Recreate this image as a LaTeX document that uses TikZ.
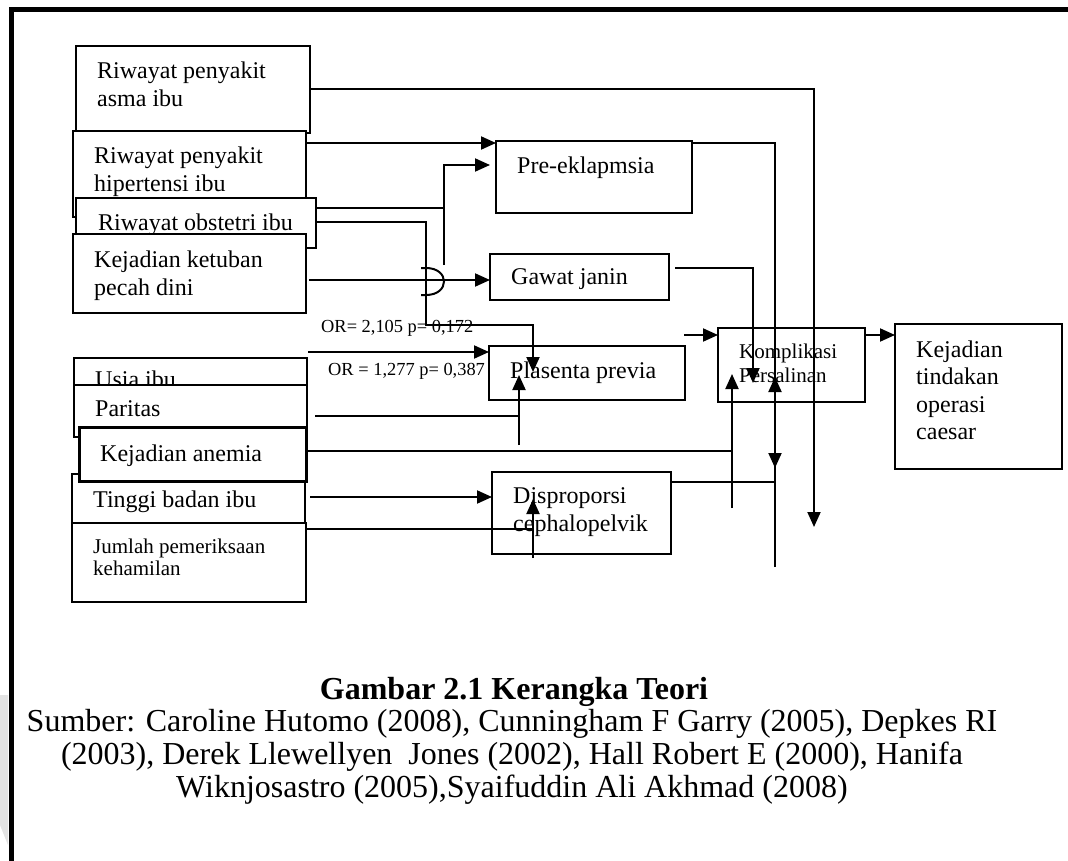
\documentclass[tikz,border=0pt]{standalone}
\usepackage{fontspec}
\setmainfont{Liberation Serif}
\usetikzlibrary{arrows.meta}

\newcommand{\ukuran}[2]{\fontsize{#1}{#2}\selectfont}

\begin{document}
\begin{tikzpicture}[x=1pt,y=-1pt,
  kotak/.style={draw, fill=white, line width=2pt, anchor=north west, inner sep=0pt, outer sep=0pt},
  teks/.style={anchor=north west, inner sep=0pt, align=left, font=\ukuran{24}{28}},
  garis/.style={line width=2pt},
  panah/.style={garis, -{Triangle[length=15pt,width=13pt]}}]

\useasboundingbox (0,0) rectangle (1068,861);

% Frame
\fill[gray!22] (0,695) -- (8,695) -- (8,845) -- (0,825) -- cycle;
\draw[line width=5pt] (11,861) -- (11,9.5) -- (1068,9.5);

% Factor boxes (upper left)
\node[kotak, minimum width=234pt, minimum height=87pt] (asma) at (76,46) {};
\node[teks] (tAsma) at (97,61.6) {Riwayat penyakit\\asma ibu};
\node[kotak, minimum width=233pt, minimum height=86pt] (hiper) at (73,131) {};
\node[teks] (tHiper) at (94,146.6) {Riwayat penyakit\\hipertensi ibu};
\node[kotak, minimum width=240pt, minimum height=50pt] (obst) at (76,198) {};
\node[teks] (tObst) at (98,213.6) {Riwayat obstetri ibu};
\node[kotak, minimum width=233pt, minimum height=79pt] (ketuban) at (73,234) {};
\node[teks] (tKetuban) at (94,250.6) {Kejadian ketuban\\pecah dini};

% Factor boxes (lower left)
\node[kotak, minimum width=233pt, minimum height=79pt] (usia) at (74,358) {};
\node[teks] (tUsia) at (95,370.6) {Usia ibu};
\node[kotak, minimum width=233pt, minimum height=52pt] (paritas) at (74,385) {};
\node[teks] (tParitas) at (95,400.6) {Paritas};
\node[kotak, minimum width=233pt, minimum height=49pt] (tinggi) at (72,474) {};
\node[teks] (tTinggi) at (93,490.6) {Tinggi badan ibu};
\node[kotak, minimum width=234pt, minimum height=79pt] (jumlah) at (72,523) {};
\node[teks, font=\ukuran{21}{22}] (tJumlah) at (93,538.7) {Jumlah pemeriksaan\\kehamilan};
\node[kotak, line width=3pt, minimum width=227pt, minimum height=54pt] (anemia) at (79,427) {};
\node[teks] (tAnemia) at (100,444.6) {Kejadian anemia};

% Middle boxes
\node[kotak, minimum width=196pt, minimum height=72pt] (preek) at (496,141) {};
\node[teks] (tPreek) at (517,156.6) {Pre-eklapmsia};
\node[kotak, minimum width=179pt, minimum height=46pt] (gawat) at (490,254) {};
\node[teks] (tGawat) at (511,268.6) {Gawat janin};
\node[kotak, minimum width=196pt, minimum height=54pt] (plasenta) at (489,346) {};
\node[teks] (tPlasenta) at (510,361.6) {Plasenta previa};
\node[kotak, minimum width=179pt, minimum height=82pt] (dispro) at (492,472) {};
\node[teks] (tDispro) at (513,487.6) {Disproporsi\\cephalopelvik};

% Outcome boxes
\node[kotak, minimum width=147pt, minimum height=74pt] (kompl) at (718,328) {};
\node[teks, font=\ukuran{21}{24}] (tKompl) at (739,343.7) {Komplikasi\\Persalinan};
\node[kotak, minimum width=167pt, minimum height=145pt] (sesar) at (895,324) {};
\node[teks, font=\ukuran{24}{27.3}] (tSesar) at (916,340.6) {Kejadian\\tindakan\\operasi\\caesar};

% Odds ratios
\node[teks, font=\ukuran{18.4}{20}] (or1) at (321,320.5) {OR= 2,105 p= 0,172};
\node[teks, font=\ukuran{18.4}{20}] (or2) at (328,363.5) {OR = 1,277 p= 0,387};

% Connectors
\draw[panah] (asma.east) -| (814,527);
\draw[panah] (hiper.east |- 0,143) -- (preek.west |- 0,143);
\draw[garis] (obst.east |- 0,208) -- (444,208);
\draw[panah] (444,265) |- (490,165);
\draw[panah] (obst.east |- 0,222) -| (426,325) -| (533,372);
\draw[garis] (421,268) -- (426,268) .. controls (450,268) and (450,295) .. (426,295) -- (421,295);
\draw[panah] (309,280) -- (gawat.west |- 0,280);
\draw[panah] (308,352) -- (plasenta.west |- 0,352);
\draw[garis] (315,416) -- (519,416);
\draw[panah] (519,445) -- (519,375);
\draw[garis] (anemia.east |- 0,451) -- (732,451);
\draw[panah] (732,508) -- (732,374);
\draw[panah] (310,497) -- (dispro.west |- 0,497);
\draw[garis] (jumlah.east |- 0,529) -- (533,529);
\draw[panah] (533,558) -- (533,499);
\draw[panah] (preek.east |- 0,143) -| (775,468);
\draw[garis] (dispro.east |- 0,482) -- (775,482);
\draw[panah] (775,567) -- (775,377);
\draw[panah] (675,268) -| (753,383);
\draw[panah] (684,335) -- (kompl.west |- 0,335);
\draw[panah] (kompl.east |- 0,335) -- (sesar.west |- 0,335);

% Caption
\node[anchor=base, inner sep=0pt, font=\bfseries\ukuran{32}{33}] (judul) at (514,699) {Gambar 2.1 Kerangka Teori};
\node[anchor=north, inner sep=0pt, align=center, font=\ukuran{32}{33}] (sumber) at (512,708.8)
  {Sumber: Caroline Hutomo (2008), Cunningham F Garry (2005), Depkes RI\\
   (2003), Derek Llewellyen~ Jones (2002), Hall Robert E (2000), Hanifa\\
   Wiknjosastro (2005),Syaifuddin Ali Akhmad (2008)};

\end{tikzpicture}
\end{document}
